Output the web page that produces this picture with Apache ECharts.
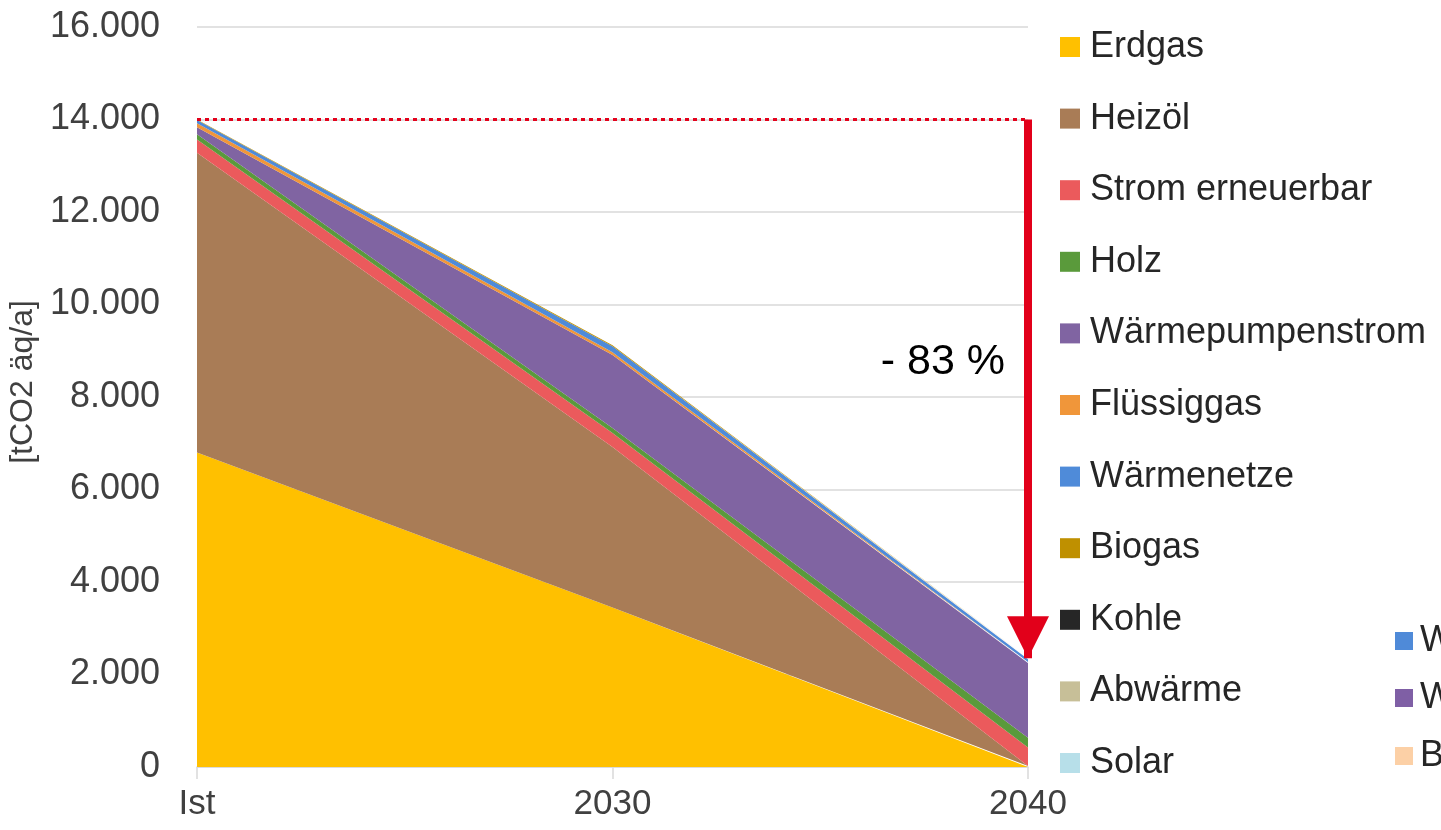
<!DOCTYPE html>
<html>
<head>
<meta charset="utf-8">
<script src="https://cdn.jsdelivr.net/npm/echarts@6/dist/echarts.min.js"></script>
<style>
	html, body { margin: 0; padding: 0; background: #fff; }
	#chart { width: 1441px; height: 830px; }
</style>
</head>
<body>
<div id="chart"></div>
<script>
const categories = ['Ist', '2030', '2040'];

// tCO2 äq/a je Energieträger, von unten nach oben gestapelt
const erdgas = [6800, 3450, 0];
const heizoel = [6480, 3470, 20];
const stromErneuerbar = [290, 300, 400];
const holz = [110, 110, 210];
const waermepumpenstrom = [150, 1580, 1620];
const fluessiggas = [90, 60, 20];
const waermenetze = [70, 130, 60];
const biogas = [10, 20, 20];
const kohle = [0, 0, 0];
const abwaerme = [0, 0, 0];
const solar = [0, 0, 0];

const seriesNames = ['Erdgas', 'Heizöl', 'Strom erneuerbar', 'Holz', 'Wärmepumpenstrom',
	'Flüssiggas', 'Wärmenetze', 'Biogas', 'Kohle', 'Abwärme', 'Solar'];
const seriesData = [erdgas, heizoel, stromErneuerbar, holz, waermepumpenstrom,
	fluessiggas, waermenetze, biogas, kohle, abwaerme, solar];
const seriesColors = ['#ffc000', '#a97c56', '#eb5a5c', '#5a9a3b', '#8064a2',
	'#f0963a', '#4f8bd9', '#bf9000', '#262626', '#c7bf98', '#b7dfe9'];

const reductionLabel = '- 83 %';
const baseline = 14000;

const FONT = "'Liberation Sans', Arial, sans-serif";

function formatThousands(value) {
	return String(value).replace(/\B(?=(\d{3})+(?!\d))/g, '.');
}

const total2040 = seriesData.reduce((sum, arr) => sum + arr[2], 0);

const series = seriesNames.map((name, i) => {
	const s = {
		name: name,
		type: 'line',
		stack: 'total',
		data: seriesData[i],
		symbol: 'none',
		lineStyle: { width: 0 },
		areaStyle: { color: seriesColors[i], opacity: 1 },
		itemStyle: { color: seriesColors[i] },
		emphasis: { disabled: true }
	};
	if (i === 0) {
		// dotted baseline at Ist level and the reduction arrow
		s.markLine = {
			silent: true,
			animation: false,
			label: { show: false },
			data: [
				[
					{ coord: ['Ist', baseline], symbol: 'none',
						lineStyle: { color: '#e2001a', width: 3, type: [4, 4] } },
					{ coord: ['2040', baseline], symbol: 'none' }
				],
				[
					{ coord: ['2040', baseline], symbol: 'none',
						lineStyle: { color: '#e2001a', width: 8, type: 'solid' } },
					{ coord: ['2040', total2040], symbol: 'triangle', symbolSize: 42, symbolOffset: [0, '50%'] }
				]
			]
		};
	}
	return s;
});

const chart = echarts.init(document.getElementById('chart'));
chart.setOption({
	animation: false,
	backgroundColor: '#ffffff',
	textStyle: { fontFamily: FONT },
	grid: { left: 197, right: 413, top: 27, bottom: 63, containLabel: false, outerBoundsMode: 'none' },
	legend: {
		orient: 'vertical',
		left: 1055,
		top: 24,
		data: seriesNames,
		icon: 'rect',
		itemWidth: 20,
		itemHeight: 20,
		itemGap: 35.6,
		selectedMode: false,
		textStyle: { fontSize: 36, lineHeight: 34, color: '#262626', fontFamily: FONT, padding: [0, 0, 0, 5] }
	},
	xAxis: {
		type: 'category',
		data: categories,
		boundaryGap: false,
		axisLine: { lineStyle: { color: '#d9d9d9', width: 1.5 } },
		axisTick: { show: true, length: 12, lineStyle: { color: '#d9d9d9', width: 1.5 } },
		axisLabel: { fontSize: 35, color: '#404040', margin: 20, fontFamily: FONT }
	},
	yAxis: {
		type: 'value',
		min: 0,
		max: 16000,
		interval: 2000,
		name: '[tCO2 äq/a]',
		nameLocation: 'middle',
		nameGap: 145,
		nameRotate: 90,
		nameTextStyle: { fontSize: 32, color: '#404040', fontFamily: FONT, padding: [0, 0, 0, 30] },
		axisLine: { show: false },
		axisTick: { show: false },
		splitLine: { lineStyle: { color: '#d9d9d9', width: 1.5 } },
		axisLabel: { fontSize: 36, color: '#404040', margin: 37, fontFamily: FONT, formatter: formatThousands }
	},
	graphic: [
		{ type: 'text', x: 1005, y: 362, style: { text: reductionLabel, font: '43px ' + FONT, fill: '#000000', align: 'right', verticalAlign: 'middle' } },
		// remnants of a second, cut-off legend at the right edge
		{ type: 'rect', shape: { x: 1395, y: 632, width: 18, height: 18 }, style: { fill: '#4f8ad8' } },
		{ type: 'text', x: 1420, y: 641, style: { text: 'W', font: '36px ' + FONT, fill: '#262626', verticalAlign: 'middle' } },
		{ type: 'rect', shape: { x: 1395, y: 689, width: 18, height: 18 }, style: { fill: '#7f5fa5' } },
		{ type: 'text', x: 1420, y: 698, style: { text: 'W', font: '36px ' + FONT, fill: '#262626', verticalAlign: 'middle' } },
		{ type: 'rect', shape: { x: 1395, y: 747, width: 18, height: 18 }, style: { fill: '#fcd0a6' } },
		{ type: 'text', x: 1420, y: 756, style: { text: 'B', font: '36px ' + FONT, fill: '#262626', verticalAlign: 'middle' } }
	],
	series: series
});

window.addEventListener('resize', () => chart.resize());
</script>
</body>
</html>
